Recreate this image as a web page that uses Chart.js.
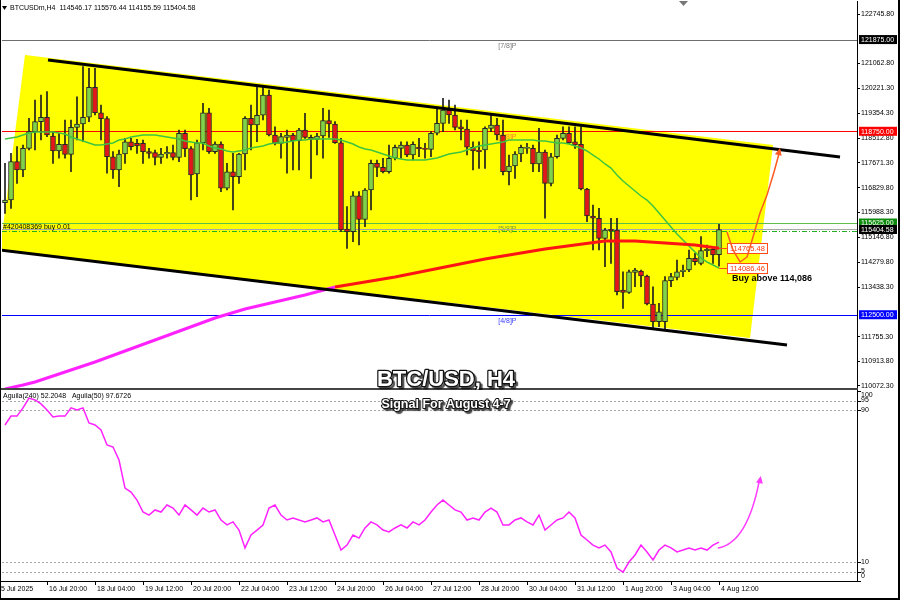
<!DOCTYPE html>
<html>
<head>
<meta charset="utf-8">
<script src="https://cdn.jsdelivr.net/npm/chart.js@4.4.1/dist/chart.umd.min.js"></script>
<style>
  html, body { margin: 0; padding: 0; background: #fff; }
  #wrap { position: relative; width: 900px; height: 600px; overflow: hidden; }
  canvas { position: absolute; left: 0; }
  #main { top: 0; }
  #osc { top: 390px; }
</style>
</head>
<body>
<div id="wrap">
  <canvas id="main" width="900" height="390"></canvas>
  <canvas id="osc" width="900" height="210"></canvas>
</div>
<script>
// BTCUSDm H4, 120 candles from 15 Jul 16:00 to 4 Aug 12:00
const opens = [
  116317,116409,117714,117431,118170,118736,119077,119227,118589,118078,
  118307,117966,118886,118998,119227,120249,119383,119179,117884,117431,
  117976,118395,118341,118341,118055,118021,117864,117976,118021,117864,
  118682,118157,117295,118361,119383,118055,118317,116808,117373,117203,
  117976,119193,118964,119295,119986,118624,118341,118545,118624,118429,
  118794,118545,118477,118589,119111,118998,118361,115421,115329,116555,
  115751,116750,117659,117523,117373,117830,118170,118283,117942,118205,
  118170,118136,118682,119022,119475,119305,118906,118828,118205,118113,
  118113,118852,118964,118624,117373,117567,117976,118170,118170,117636,
  118044,116978,117884,118511,118682,118395,118307,116784,115864,115786,
  115104,115411,115387,113343,113264,113946,113990,113820,112866,112263,
  112263,113660,113775,113966,114024,114423,114252,114682,114729,114546.17
];
const highs = [
  117659,118000,118225,118283,119193,119816,119986,120099,118736,118682,
  119135,119135,119928,120951,120896,120896,119646,119247,118055,118113,
  118511,118511,118477,118453,118170,118113,118170,118225,118283,118794,
  118794,118225,118453,119704,119533,118395,118395,117659,118000,118000,
  119247,119646,120327,120269,120157,118906,118682,118794,118682,118852,
  119363,118624,118682,119533,119475,119077,118511,116181,116692,116692,
  116800,117772,117772,117830,118283,118283,118395,118395,118395,118511,
  118341,118736,119533,119874,119816,119646,119135,119135,118395,118395,
  118906,119305,119193,119135,117942,118055,118283,118341,118283,118852,
  118113,118000,118624,118906,118906,118906,118906,116808,116239,116126,
  115445,115786,115786,113966,114024,114082,114024,113854,113455,112890,
  113796,113912,114365,114194,114706,114593,115159,114876,114818,115576.44
];
const lows = [
  115956,116126,116978,117203,118113,118113,118453,118566,117659,117830,
  117830,117373,118453,118395,119077,119305,118453,117319,117148,116862,
  117659,118113,118000,117659,117830,117601,117659,117830,117772,117714,
  117884,116409,116522,118113,118000,118000,116692,116750,116068,116978,
  117431,118113,118395,119135,118589,118283,117830,117319,117431,117431,
  118511,117148,117942,117830,118545,118341,115329,114763,114988,114876,
  115499,116068,117203,117329,117319,117772,117830,117884,117772,117884,
  117830,117884,118624,118736,119022,118794,118453,117942,117431,117489,
  117489,118736,118453,117261,116920,117148,117714,118000,117373,117373,
  115786,116886,117830,118453,118341,118170,116750,115670,114706,114706,
  114136,114252,113172,112719,113230,113455,113455,112832,112004,112092,
  111956,113455,113683,113796,113966,114194,114194,114477,114252,114155.59
];
const closes = [
  116409,117714,117431,118170,118736,119077,119227,118624,118078,118307,
  117966,118886,118998,119227,120249,119383,119179,117884,117431,117976,
  118395,118225,118249,118055,118000,117864,117976,118034,117864,118682,
  118157,117261,118361,119383,118055,118317,116808,117373,117203,117976,
  119193,118964,119295,119986,118624,118341,118566,118624,118429,118794,
  118545,118477,118589,119111,118998,118361,115387,115329,116555,115751,
  116750,117659,117523,117373,117830,118205,118283,117942,118307,118157,
  118136,118682,119022,119475,119305,118886,118828,118205,118078,118055,
  118852,118964,118624,117373,117567,117976,118205,118205,117636,118044,
  116978,117884,118511,118682,118361,118283,116784,115864,115786,115104,
  115387,115363,113285,113264,113966,114024,113820,112866,112263,112603,
  113660,113796,113966,114024,114423,114307,114682,114729,114535,115404.58
];

// green moving average, one value per candle
const fastMa = [
  118487,118521,118555,118624,118692,118726,118726,118726,118726,118692,
  118658,118555,118487,118419,118351,118283,118283,118317,118351,118453,
  118487,118555,118590,118624,118624,118624,118590,118555,118521,118487,
  118419,118385,118351,118351,118249,118181,118147,118079,118045,118079,
  118113,118181,118215,118249,118317,118351,118351,118385,118419,118453,
  118453,118487,118487,118487,118487,118487,118453,118385,118317,118215,
  118147,118113,118045,117977,117908,117840,117806,117772,117772,117772,
  117772,117806,117840,117908,117977,118011,118045,118113,118181,118249,
  118283,118317,118351,118385,118453,118453,118453,118453,118453,118419,
  118419,118385,118351,118351,118317,118249,118181,118079,117942,117806,
  117636,117499,117261,117056,116886,116716,116545,116409,116205,115966,
  115728,115489,115251,115046,114842,114637,114433,114297,114195,114086.46
];

// slow moving average (magenta part, then red part)
const magBars = [0, 3, 5, 8, 10, 15, 20, 25, 30, 35, 40, 45, 50, 55];
const magVals = [109970, 110106, 110209, 110413, 110549, 110890, 111264, 111639, 112014, 112389, 112696, 112934, 113172, 113445];
const redBars = [55, 60, 65, 70, 75, 80, 85, 90, 95, 100, 105, 110, 115, 119];
const redVals = [113445, 113615, 113786, 113990, 114195, 114399, 114569, 114740, 114876, 115012, 115012, 114944, 114876, 114765.48];

// Aguila(240) oscillator, one value per candle
const oscVals = [
  82.1,86.8,86.8,91.1,96.3,95.3,93.2,90,86.3,86.8,
  86.8,91.1,90,91.1,83.2,82.1,79.5,71.6,70.5,63.7,
  48.9,46.8,42.6,36.3,34.7,37.4,36.3,40,38.4,34.7,
  40,37.4,34.7,38.4,36.3,37.4,32.1,29.5,31.1,26.8,
  17.4,24.2,26.8,29.5,38.4,40,34.7,32.1,33.2,32.1,
  31.1,32.1,33.2,31.1,32.1,24.2,16.3,18.9,24.2,22.6,
  27.9,31.1,29.5,26.8,25.8,27.9,29.5,27.9,31.1,29.5,
  32.1,36.3,40,42.6,40,37.4,36.3,32.1,33.2,32.1,
  36.3,38.4,36.3,29.5,29.5,32.1,33.2,31.1,29.5,34.7,
  26.8,29.5,32.1,33.2,36.3,33.2,24.2,21.6,18.9,17.4,
  18.9,15.3,6.8,4.7,10,13.7,18.9,15.3,11.1,16.3,
  18.9,17.4,15.3,16.3,17.4,16.3,17.4,16.3,18.9,20.5
];

// axes
const priceTicks = [122745.8, 121062.8, 120221.3, 119354.3, 118512.8, 117671.3, 116829.8,
  115988.3, 115146.8, 114279.8, 113438.3, 111755.3, 110913.8, 110072.3];
const oscTicks = [100, 95, 90, 10, 5, 0];
const oscLevels = [95, 90, 10, 5];
const xTickBars = [0, 7, 15, 23, 31, 39, 47, 55, 63, 71, 79, 87, 95, 103, 111, 119];
const xTickLabels = ['15 Jul 2025', '16 Jul 20:00', '18 Jul 04:00', '19 Jul 12:00', '20 Jul 20:00',
  '22 Jul 04:00', '23 Jul 12:00', '24 Jul 20:00', '26 Jul 04:00', '27 Jul 12:00', '28 Jul 20:00',
  '30 Jul 04:00', '31 Jul 12:00', '1 Aug 20:00', '3 Aug 04:00', '4 Aug 12:00'];

// murrey levels and other price lines
const levels = [121875, 118750, 115625, 112500];
const levelNames = ['[7/8]P', '[6/8]P', '[5/8]P', '[4/8]P'];
const bidPrice = 115404.58;
const orderPrice = 115336;

// drawn objects, as [bar, price]
const upperChannel = [[7.17, 121179], [139.17, 117874]];
const lowerChannel = [[-0.83, 114706], [130.33, 111469]];
const channelFill = [[3.33, 121349], [128, 118283], [124.17, 111708], [-0.83, 114706]];
const orangeArrow = [[120.33, 115319], [121.33, 114706], [122.5, 114297], [123.67, 114467],
  [124.67, 115148], [125.83, 115966], [127, 116580], [128.17, 117363], [129.17, 118113]];
const maLabels = [114765.48, 114086.46];
const pinkArrow = [[118.8, 17.4], [123.8, 20], [125.8, 54.2]];

const FONT = "'Liberation Sans', Arial, sans-serif";
Chart.defaults.font.family = FONT;

const BULL = '#7fd24a';
const BEAR = '#e3171b';
const bars = opens.map((_, i) => i);

function arrowHead(ctx, x0, y0, x1, y1, size, color) {
  const a = Math.atan2(y1 - y0, x1 - x0);
  ctx.fillStyle = color;
  ctx.beginPath();
  ctx.moveTo(x1, y1);
  ctx.lineTo(x1 - size * Math.cos(a - 0.45), y1 - size * Math.sin(a - 0.45));
  ctx.lineTo(x1 - size * Math.cos(a + 0.45), y1 - size * Math.sin(a + 0.45));
  ctx.closePath();
  ctx.fill();
}

function outlinedText(ctx, text, x, y, size, lw) {
  ctx.save();
  ctx.font = 'bold ' + size + 'px ' + FONT;
  ctx.textAlign = 'center';
  ctx.textBaseline = 'alphabetic';
  ctx.shadowColor = 'rgba(0,0,0,0.7)';
  ctx.shadowOffsetX = 2;
  ctx.shadowOffsetY = 2;
  ctx.shadowBlur = 1;
  ctx.lineJoin = 'round';
  ctx.lineWidth = lw;
  ctx.strokeStyle = '#111';
  ctx.strokeText(text, x, y);
  ctx.shadowColor = 'transparent';
  ctx.fillStyle = '#fff';
  ctx.fillText(text, x, y);
  ctx.restore();
}

const mainDeco = {
  id: 'mainDeco',
  beforeDatasetsDraw(chart) {
    const { ctx, chartArea: ca, scales: { x, y } } = chart;
    ctx.save();
    ctx.beginPath();
    ctx.rect(ca.left, ca.top, ca.right - ca.left, ca.bottom - ca.top);
    ctx.clip();

    ctx.fillStyle = '#ffff00';
    ctx.beginPath();
    channelFill.forEach(([b, p], k) => {
      const X = x.getPixelForValue(b), Y = y.getPixelForValue(p);
      if (k) ctx.lineTo(X, Y); else ctx.moveTo(X, Y);
    });
    ctx.closePath();
    ctx.fill();

    const lineCols = ['#6e6e6e', '#ff0000', '#5cbf4a', '#0000ff'];
    const textCols = ['#777777', '#ff7a2a', '#7d9a3a', '#3a3aff'];
    ctx.font = '7px ' + FONT;
    ctx.textBaseline = 'top';
    levels.forEach((p, k) => {
      const Y = Math.round(y.getPixelForValue(p)) + 0.5;
      ctx.strokeStyle = lineCols[k];
      ctx.lineWidth = 1;
      ctx.beginPath();
      ctx.moveTo(ca.left, Y);
      ctx.lineTo(ca.right, Y);
      ctx.stroke();
      ctx.fillStyle = textCols[k];
      ctx.fillText(levelNames[k], x.getPixelForValue(82.2), Y + 2);
    });

    let Y = Math.round(y.getPixelForValue(bidPrice)) + 0.5;
    ctx.strokeStyle = '#a8a8a8';
    ctx.beginPath(); ctx.moveTo(ca.left, Y); ctx.lineTo(ca.right, Y); ctx.stroke();

    Y = Math.round(y.getPixelForValue(orderPrice)) + 0.5;
    ctx.strokeStyle = '#22b022';
    ctx.setLineDash([5, 2, 1, 2]);
    ctx.beginPath(); ctx.moveTo(ca.left, Y); ctx.lineTo(ca.right, Y); ctx.stroke();
    ctx.setLineDash([]);
    ctx.fillStyle = '#000';
    ctx.textBaseline = 'alphabetic';
    ctx.fillText('#420408369 buy 0.01', 3, Y - 2.5);
    ctx.restore();
  },
  afterDatasetsDraw(chart) {
    const { ctx, chartArea: ca, scales: { x, y } } = chart;
    const P = ([b, p]) => [x.getPixelForValue(b), y.getPixelForValue(p)];
    ctx.save();
    ctx.beginPath();
    ctx.rect(ca.left, ca.top, ca.right - ca.left, ca.bottom - ca.top);
    ctx.clip();

    ctx.strokeStyle = '#000';
    ctx.lineWidth = 3;
    [upperChannel, lowerChannel].forEach(l => {
      const a = P(l[0]), b = P(l[1]);
      ctx.beginPath(); ctx.moveTo(a[0], a[1]); ctx.lineTo(b[0], b[1]); ctx.stroke();
    });

    // price labels of the two moving averages
    const lastX = x.getPixelForValue(119);
    const boxX = x.getPixelForValue(120.33);
    ctx.font = '7.5px ' + FONT;
    ctx.textBaseline = 'middle';
    maLabels.forEach(p => {
      const Y = Math.round(y.getPixelForValue(p)) + 0.5;
      ctx.strokeStyle = '#ff4a1a';
      ctx.lineWidth = 1;
      ctx.beginPath(); ctx.moveTo(lastX, Y); ctx.lineTo(boxX, Y); ctx.stroke();
      ctx.fillStyle = '#ffffff';
      ctx.fillRect(boxX, Y - 5, 41, 10);
      ctx.strokeRect(boxX + 0.5, Y - 5, 40, 10);
      ctx.fillStyle = '#ff3a10';
      ctx.fillText(p.toFixed(2), boxX + 3, Y + 0.5);
    });

    // projected move arrow
    ctx.strokeStyle = '#ff5a22';
    ctx.lineWidth = 1.5;
    ctx.lineJoin = 'round';
    ctx.beginPath();
    orangeArrow.forEach((pt, k) => {
      const [X, Yp] = P(pt);
      if (k) ctx.lineTo(X, Yp); else ctx.moveTo(X, Yp);
    });
    ctx.stroke();
    const e1 = P(orangeArrow[orangeArrow.length - 2]), e2 = P(orangeArrow[orangeArrow.length - 1]);
    arrowHead(ctx, e1[0], e1[1], e2[0], e2[1] - 2, 8, '#ff5a22');

    ctx.fillStyle = '#000';
    ctx.font = 'bold 9px ' + FONT;
    ctx.textBaseline = 'alphabetic';
    ctx.fillText('Buy above 114,086', 732, 281);

    // header
    ctx.fillStyle = '#000';
    ctx.beginPath(); ctx.moveTo(2, 6); ctx.lineTo(7, 6); ctx.lineTo(4.5, 10); ctx.closePath(); ctx.fill();
    ctx.font = '7px ' + FONT;
    ctx.textBaseline = 'middle';
    ctx.fillText('BTCUSDm,H4  114546.17 115576.44 114155.59 115404.58', 10, 8.5);
    ctx.fillStyle = '#777';
    ctx.beginPath(); ctx.moveTo(679, 1); ctx.lineTo(688, 1); ctx.lineTo(683.5, 6); ctx.closePath(); ctx.fill();
    ctx.restore();
  },
  afterDraw(chart) {
    const { ctx, scales: { y } } = chart;
    ctx.save();
    const boxes = [[121875, '#000000'], [118750, '#ff0000'], [115625, '#0b8a0b'], [112500, '#0000ff'], [bidPrice, '#000000']];
    ctx.font = '7px ' + FONT;
    ctx.textBaseline = 'middle';
    boxes.forEach(([p, c]) => {
      const Y = y.getPixelForValue(p);
      ctx.fillStyle = c;
      ctx.fillRect(859, Y - 4.5, 38, 9);
      ctx.fillStyle = '#fff';
      ctx.fillText(p.toFixed(2), 861, Y + 0.5);
    });
    ctx.fillStyle = '#454545';
    ctx.fillRect(0, 388, 858, 2);
    ctx.fillStyle = '#000';
    ctx.fillRect(0, 0, 1, 390);
    ctx.fillRect(898, 0, 2, 390);
    ctx.restore();
    outlinedText(ctx, 'BTC/USD, H4', 446, 386, 22, 2.5);
  }
};

new Chart(document.getElementById('main'), {
  type: 'bar',
  data: {
    datasets: [
      { type: 'line', data: magBars.map((b, k) => ({ x: b, y: magVals[k] })), borderColor: '#ff22ff',
        borderWidth: 3, pointRadius: 0, order: 0 },
      { type: 'line', data: redBars.map((b, k) => ({ x: b, y: redVals[k] })), borderColor: '#ff1414',
        borderWidth: 3, pointRadius: 0, order: 0 },
      { type: 'line', data: bars.map(i => ({ x: i, y: fastMa[i] })), borderColor: '#3fc43f',
        borderWidth: 1.5, pointRadius: 0, order: 1 },
      { type: 'bar', data: bars.map(i => ({ x: i, y: [opens[i], closes[i]] })),
        backgroundColor: bars.map(i => closes[i] >= opens[i] ? BULL : BEAR),
        borderColor: '#262626', borderWidth: 1, borderSkipped: false, barThickness: 5,
        minBarLength: 1, grouped: false, order: 2 },
      { type: 'bar', data: bars.map(i => ({ x: i, y: [lows[i], highs[i]] })),
        backgroundColor: '#1e1e1e', barThickness: 1, grouped: false, order: 3 }
    ]
  },
  options: {
    responsive: false,
    animation: false,
    events: [],
    layout: { padding: { left: 2, right: 0, top: 1, bottom: 2 } },
    plugins: { legend: { display: false }, tooltip: { enabled: false } },
    scales: {
      x: { type: 'linear', min: -0.5, max: 142, offset: false, display: false },
      y: {
        position: 'right', min: 110004, max: 123189,
        afterFit(s) { s.width = 43; s.paddingTop = 0; s.paddingBottom = 0; },
        afterBuildTicks(s) { s.ticks = priceTicks.map(v => ({ value: v })); },
        ticks: { autoSkip: false, padding: 1, color: '#000', font: { size: 7 },
          callback: v => Number(v).toFixed(2) },
        grid: { drawOnChartArea: false, tickLength: 3, color: '#000' },
        border: { color: '#000' }
      }
    }
  },
  plugins: [mainDeco]
});

const oscDeco = {
  id: 'oscDeco',
  beforeDatasetsDraw(chart) {
    const { ctx, chartArea: ca, scales: { y } } = chart;
    ctx.save();
    ctx.strokeStyle = '#a8a8a8';
    ctx.lineWidth = 1;
    ctx.setLineDash([2, 2]);
    oscLevels.forEach(v => {
      const Y = Math.round(y.getPixelForValue(v)) + 0.5;
      ctx.beginPath(); ctx.moveTo(ca.left, Y); ctx.lineTo(ca.right, Y); ctx.stroke();
    });
    ctx.restore();
  },
  afterDatasetsDraw(chart) {
    const { ctx, scales: { x, y } } = chart;
    const P = ([b, v]) => [x.getPixelForValue(b), y.getPixelForValue(v)];
    ctx.save();
    const [s, c, e] = pinkArrow.map(P);
    ctx.strokeStyle = '#ff3cff';
    ctx.lineWidth = 1.5;
    ctx.beginPath(); ctx.moveTo(s[0], s[1]); ctx.quadraticCurveTo(c[0], c[1], e[0], e[1]); ctx.stroke();
    arrowHead(ctx, c[0], c[1], e[0] + 1, e[1] - 2, 8, '#ff3cff');

    ctx.fillStyle = '#000';
    ctx.font = '7px ' + FONT;
    ctx.textBaseline = 'middle';
    ctx.fillText('Aguila(240) 52.2048   Aguila(50) 97.6726', 3, 6.5);
    ctx.restore();
    outlinedText(ctx, 'Signal For August 4-7', 446, 17.5, 12.5, 2);
  },
  afterDraw(chart) {
    const { ctx, chartArea: ca, scales: { x, y } } = chart;
    ctx.save();
    ctx.fillStyle = '#000';
    ctx.fillRect(857, 0, 1, ca.bottom + 1);
    ctx.fillRect(0, ca.bottom, 858, 1);
    ctx.font = '7px ' + FONT;
    ctx.textBaseline = 'middle';
    oscTicks.forEach(v => {
      const Y = y.getPixelForValue(v);
      ctx.fillRect(858, Math.round(Y), 3, 1);
      ctx.fillText(String(v), 861, Math.min(Math.max(Y, ca.top + 4), ca.bottom - 5));
    });
    xTickBars.forEach((b, k) => {
      const X = Math.round(x.getPixelForValue(b));
      if (k) {
        ctx.fillRect(X, ca.bottom + 1, 1, 3);
        ctx.fillText(xTickLabels[k], X + 2, ca.bottom + 8.5);
      } else {
        ctx.fillText(xTickLabels[k], X - 8, ca.bottom + 8.5);
      }
    });
    ctx.fillRect(0, 0, 1, 210);
    ctx.fillRect(898, 0, 2, 210);
    ctx.fillRect(0, 208, 900, 2);
    ctx.restore();
  }
};

new Chart(document.getElementById('osc'), {
  type: 'line',
  data: {
    datasets: [
      { data: bars.map(i => ({ x: i, y: oscVals[i] })), borderColor: '#ff22ff', borderWidth: 1.5,
        pointRadius: 0, tension: 0 }
    ]
  },
  options: {
    responsive: false,
    animation: false,
    events: [],
    layout: { padding: { left: 2, right: 43, top: 1, bottom: 19 } },
    plugins: { legend: { display: false }, tooltip: { enabled: false } },
    scales: {
      x: { type: 'linear', min: -0.5, max: 142, display: false },
      y: { min: 0, max: 100, display: false }
    }
  },
  plugins: [oscDeco]
});
</script>
</body>
</html>
